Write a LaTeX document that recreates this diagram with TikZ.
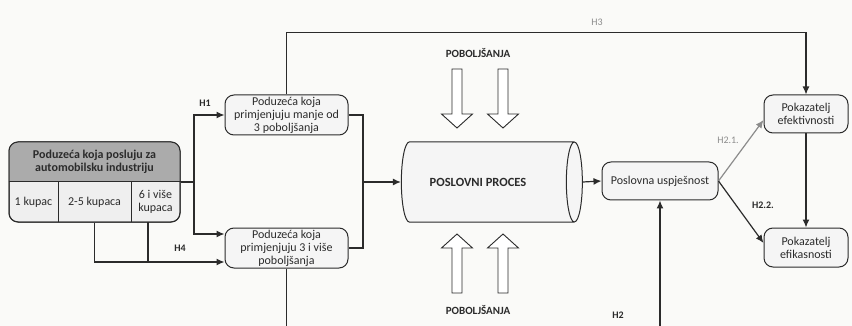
\documentclass[tikz,border=0pt]{standalone}
\usepackage{fontspec}
\setmainfont{Carlito}
\usetikzlibrary{arrows.meta,positioning,calc,shapes.geometric}
\definecolor{cInk}{HTML}{2B2B2B}
\definecolor{cHead}{HTML}{ABABAB}
\definecolor{cCell}{HTML}{EFEFEF}
\definecolor{cBox}{HTML}{F5F5F5}
\definecolor{cFaint}{HTML}{8C8C8C}
\definecolor{cPaper}{HTML}{FAFAF8}
\tikzset{
  txt/.style  = {font=\fontsize{12}{13}\selectfont, text=cInk},
  blk/.style  = {rounded corners=9pt, draw=cInk, line width=1pt, fill=cBox,
                 align=center, txt, inner sep=1pt},
  con/.style  = {cInk, line width=1.2pt},
  arr/.style  = {con, -{Latex[length=8pt,width=7pt]}},
  hlbl/.style = {font=\fontsize{10}{11}\selectfont\bfseries, text=cInk},
  push/.pic   = {
    \draw[cInk, line width=0.9pt, fill=white] (-5,0) -- (-5,45) -- (-15.5,45)
      -- (0,59) -- (15.5,45) -- (5,45) -- (5,0) -- cycle;
  },
}

\begin{document}
\begin{tikzpicture}[x=1pt, y=-1pt]
  \fill[cPaper] (0,0) rectangle (852,326);
  \useasboundingbox (0,0) rectangle (852,326);
  % industry box with header
  \node[blk, fill=cCell, minimum width=171pt, minimum height=80pt] (ind) at (94.5,182) {};
  \begin{scope}
    \clip[rounded corners=9pt] (9,142) rectangle (180,222);
    \fill[cHead] (9,142) rectangle (180,182);
  \end{scope}
  \draw[cInk, line width=1pt, rounded corners=9pt] (9,142) rectangle (180,222);
  \node[txt, font=\fontsize{12}{13}\selectfont\bfseries, align=center] (hdr) at (94.5,162)
    {Poduzeća koja posluju za\\automobilsku industriju};
  \draw[cInk, line width=1pt] (ind.west) -- (ind.east);
  \draw[cInk, line width=1pt] (58,182) -- (58,222);
  \draw[cInk, line width=1pt] (131,182) -- (131,222);
  \node[txt] (c1) at (33.5,202) {1 kupac};
  \node[txt] (c2) at (94.5,202) {2-5 kupaca};
  \node[txt, align=center] (c3) at (155.5,202) {6 i više\\kupaca};
  % improvement groups
  \node[blk, minimum width=123pt, minimum height=40pt] (fewer) at (286.5,115)
    {Poduzeća koja\\primjenjuju manje od\\3 poboljšanja};
  \node[blk, minimum width=123pt, minimum height=40pt] (more) at (286.5,248)
    {Poduzeća koja\\primjenjuju 3 i više\\poboljšanja};
  % process
  \node[cylinder, shape border rotate=0, aspect=2.4, draw=cInk, line width=1pt,
        fill=cBox, minimum height=181pt, minimum width=80pt] (proc) at (486,182) {};
  \node[txt, font=\fontsize{12.5}{14}\selectfont\bfseries] (proct) at (478,182) {POSLOVNI PROCES};
  \pic at (457,69) {push};
  \pic at (503,69) {push};
  \pic[yscale=-1] at (457,293) {push};
  \pic[yscale=-1] at (503,293) {push};
  \node[hlbl, font=\fontsize{11}{12}\selectfont\bfseries] (imptop) at (478,53) {POBOLJŠANJA};
  \node[hlbl, font=\fontsize{11}{12}\selectfont\bfseries] (impbot) at (478,310) {POBOLJŠANJA};
  % results
  \node[blk, minimum width=116pt, minimum height=38pt] (succ) at (660,181) {Poslovna uspješnost};
  \node[blk, minimum width=84pt, minimum height=38pt] (eff) at (806,114) {Pokazatelj\\efektivnosti};
  \node[blk, minimum width=84pt, minimum height=39pt] (effic) at (806,247.5) {Pokazatelj\\efikasnosti};
  % connectors
  \coordinate (jL) at (194,182);
  \coordinate (jR) at (363,182);
  \coordinate (t3) at (148,222);
  \coordinate (low) at (0,345);
  \draw[con] (ind.east) -- (jL);
  \draw[arr] (jL) |- (fewer.west);
  \draw[arr] (jL) |- ($(more.west)+(0,-14)$);
  \draw[arr] (c2 |- ind.south) |- ($(more.west)+(0,14)$);
  \draw[con] (t3) -- ++(0,40);
  \draw[con] (fewer.east) -| (jR) |- (more.east);
  \draw[arr] (jR) -- (proc.west);
  \draw[arr] (proc.east) -- (succ.west);
  \draw[arr] (fewer.north) -- ++(0,-62) -| (eff.north);
  \draw[arr] (more.south) -- (more.south |- low) -| (succ.south);
  \draw[arr, cFaint] (succ.east) -- ($(eff.west)+(0,6)$);
  \draw[arr] (succ.east) -- ($(effic.west)+(0,-4.5)$);
  \draw[arr] (eff.south) -- (effic.north);
  % labels
  \node[hlbl] (h1) at (205,103) {H1};
  \node[hlbl] (h4) at (180,248) {H4};
  \node[hlbl] (h2) at (618,315) {H2};
  \node[hlbl, text=cFaint, font=\fontsize{10}{11}\selectfont] (h3) at (597,22) {H3};
  \node[hlbl, text=cFaint, font=\fontsize{10}{11}\selectfont] (h21) at (728,140) {H2.1.};
  \node[hlbl] (h22) at (763,205) {H2.2.};
\end{tikzpicture}
\end{document}
